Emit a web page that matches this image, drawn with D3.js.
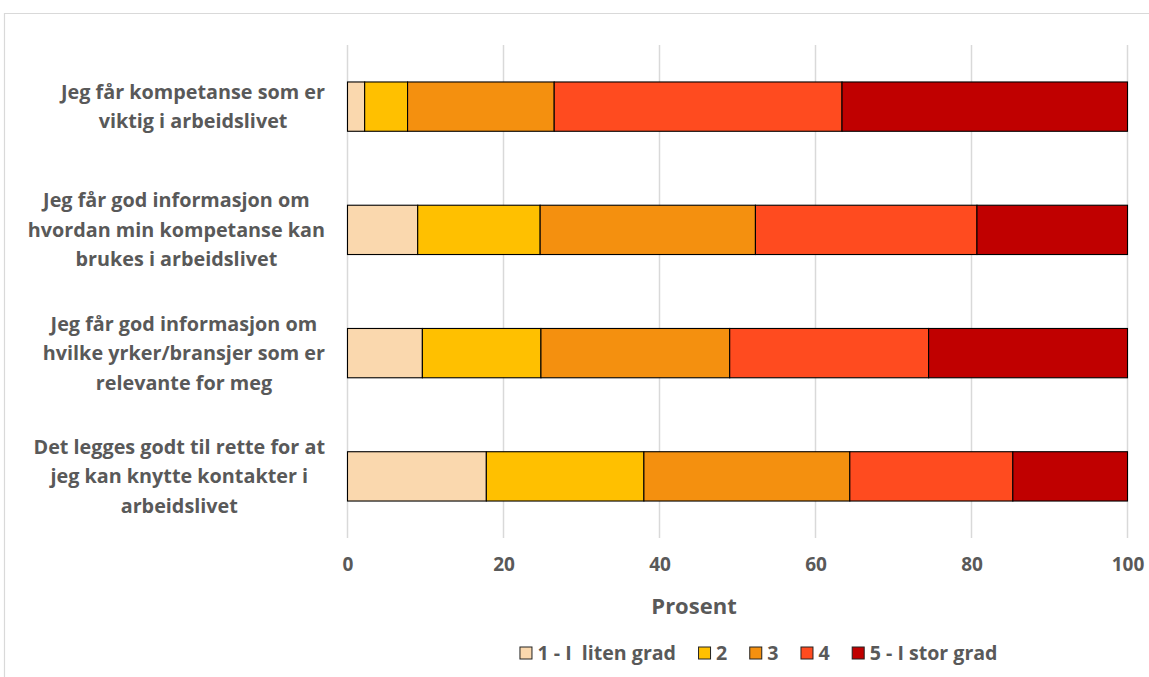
<!DOCTYPE html>
<html>
<head>
<meta charset="utf-8">
<script src="https://cdn.jsdelivr.net/npm/d3@7"></script>
<style>
  html, body { margin: 0; padding: 0; background: #fff; }
  svg text { font-family: "Open Sans", Lato, sans-serif; font-weight: bold; fill: #595959; white-space: pre; }
</style>
</head>
<body>
<svg id="chart" width="1149" height="677"></svg>
<script>
const categories = [
  ["Jeg får kompetanse som er", "viktig i arbeidslivet"],
  ["Jeg får god informasjon om", "hvordan min kompetanse kan", "brukes i arbeidslivet"],
  ["Jeg får god informasjon om", "hvilke yrker/bransjer som er", "relevante for meg"],
  ["Det legges godt til rette for at", "jeg kan knytte kontakter i", "arbeidslivet"]
];
const seriesNames = ["1 - I  liten grad", "2", "3", "4", "5 - I stor grad"];
const s1 = [2.2, 9.0, 9.6, 17.8];
const s2 = [5.5, 15.7, 15.2, 20.2];
const s3 = [18.8, 27.6, 24.2, 26.4];
const s4 = [36.9, 28.4, 25.5, 20.9];
const s5 = [36.6, 19.3, 25.5, 14.7];
const xTicks = [0, 20, 40, 60, 80, 100];
const axisTitle = "Prosent";
const colors = ["#FAD8AE", "#FFC000", "#F4900F", "#FF4B1F", "#C00000"];

const series = [s1, s2, s3, s4, s5];
const svg = d3.select("#chart");

// chart area border
svg.append("path")
  .attr("d", "M4.5,677 L4.5,13.5 L1149,13.5")
  .attr("fill", "none").attr("stroke", "#D9D9D9").attr("stroke-width", 1.2);

const plotTop = 45, plotBottom = 538;
const x = d3.scaleLinear().domain([0, 100]).range([347.5, 1127.5]);
const keys = categories.map((c, i) => i);
const y = d3.scaleBand().domain(keys).range([plotTop, plotBottom]).paddingInner(0.6).paddingOuter(0.3);

// gridlines
svg.append("g").selectAll("line").data(xTicks).join("line")
  .attr("x1", d => x(d)).attr("x2", d => x(d))
  .attr("y1", plotTop).attr("y2", plotBottom)
  .attr("stroke", "#D9D9D9").attr("stroke-width", 1.5);

// stacked data
const rows = keys.map(i => {
  const o = { key: i };
  series.forEach((s, j) => o["s" + j] = s[i]);
  return o;
});
const stack = d3.stack().keys(series.map((s, j) => "s" + j));
const stacked = stack(rows);

svg.append("g").selectAll("g").data(stacked).join("g")
  .attr("fill", (d, j) => colors[j])
  .selectAll("rect").data(d => d).join("rect")
  .attr("x", d => x(d[0]))
  .attr("width", d => x(d[1]) - x(d[0]))
  .attr("y", d => y(d.data.key))
  .attr("height", y.bandwidth())
  .attr("stroke", "#000").attr("stroke-width", 1.1);

// x tick labels
const xAxis = d3.axisBottom(x).tickValues(xTicks).tickSize(0).tickPadding(0);
const gx = svg.append("g").attr("transform", "translate(0,557)").call(xAxis);
gx.select(".domain").remove();
gx.selectAll("text").attr("font-size", 19).attr("fill", "#595959")
  .attr("font-family", "'Open Sans', Lato, sans-serif").attr("font-weight", "bold");

// axis title
svg.append("text").attr("x", 694).attr("y", 614).attr("text-anchor", "middle")
  .attr("font-size", 22).text(axisTitle);

// category labels
const labelRight = 325, lineH = 29.4;
categories.forEach((lines, i) => {
  const g = svg.append("g");
  const cy = y(i) + y.bandwidth() / 2;
  const n = lines.length;
  const texts = lines.map((ln, k) => g.append("text")
    .attr("font-size", 19.8)
    .attr("y", cy + (k - (n - 1) / 2) * lineH + 7)
    .attr("text-anchor", "middle")
    .text(ln));
  const maxW = d3.max(texts, t => t.node().getComputedTextLength());
  texts.forEach(t => t.attr("x", labelRight - maxW / 2));
});

// legend
const lg = svg.append("g");
let cx = 0;
seriesNames.forEach((name, j) => {
  const it = lg.append("g");
  it.append("rect").attr("x", 0.5).attr("y", 647).attr("width", 12).attr("height", 12)
    .attr("fill", colors[j]).attr("stroke", "#222").attr("stroke-width", 1);
  const t = it.append("text").attr("x", 18).attr("y", 660).attr("font-size", 19.6).text(name);
  const w = 18 + t.node().getComputedTextLength();
  it.attr("transform", `translate(${cx},0)`);
  cx += w + 22;
});
const totalW = cx - 22;
lg.attr("transform", `translate(${758.5 - totalW / 2},0)`);
</script>
</body>
</html>
